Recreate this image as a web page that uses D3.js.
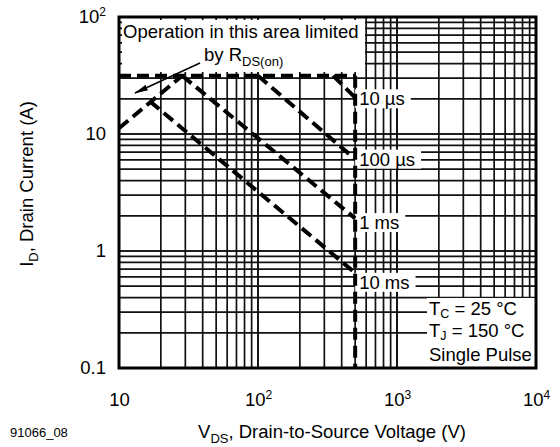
<!DOCTYPE html>
<html><head><meta charset="utf-8">
<script src="https://cdn.jsdelivr.net/npm/d3@7"></script>
<style>html,body{margin:0;padding:0;background:#fff;}svg{display:block;font-family:"Liberation Sans",Arial,Helvetica,sans-serif;}</style>
</head><body>
<svg id="c" width="560" height="447"></svg>
<script>
// ---- data ----
const xTickValues = [10, 100, 1000, 10000];
const xTickBase = ["10", "10", "10", "10"];
const xTickExp = ["", "2", "3", "4"];
const yTickValues = [0.1, 1, 10, 100];
const yTickBase = ["0.1", "1", "10", "10"];
const yTickExp = ["", "", "", "2"];

const rdsLine = [[10, 11.2], [28.5, 31.5]];
const limitLine = [[10, 31.5], [500, 31.5]];
const voltLine = [[500, 31.5], [500, 0.1]];
const pulseNames = ["10 µs", "100 µs", "1 ms", "10 ms"];
const pulseLines = [
  [[347, 31.5], [500, 20.5]],
  [[100, 31.5], [500, 6.1]],
  [[28.5, 31.5], [500, 1.9]],
  [[16.7, 19], [500, 0.65]]
];
const pulseLabelY = [20, 6.1, 1.75, 0.54];
const condLines = ["T|C| = 25 °C", "T|J| = 150 °C", "Single Pulse"];

// ---- layout ----
const L = 119, R = 536, T = 17, B = 368;
const svg = d3.select("#c");
const x = d3.scaleLog().domain([10, 10000]).range([L, R]);
const y = d3.scaleLog().domain([0.1, 100]).range([B, T]);

// grid
const xGrid = [], yGrid = [];
for (let d = 10; d < 10000; d *= 10) for (let k = 1; k <= 10; k++) xGrid.push(d * k);
for (let d = 0.1; d < 100; d *= 10) for (let k = 1; k <= 10; k++) yGrid.push(+(d * k).toPrecision(3));
const grid = svg.append("g").attr("stroke", "#111").attr("stroke-width", 1.7);
grid.selectAll("line.v").data(xGrid).join("line").attr("class", "v")
  .attr("x1", d => x(d)).attr("x2", d => x(d)).attr("y1", T).attr("y2", B);
grid.selectAll("line.h").data(yGrid).join("line").attr("class", "h")
  .attr("y1", d => y(d)).attr("y2", d => y(d)).attr("x1", L).attr("x2", R);

const FS = 18.5;
// annotation box
svg.append("rect").attr("x", L + 3).attr("y", T + 3).attr("width", 243).attr("height", 52).attr("fill", "#fff");
svg.append("text").attr("x", L + 4).attr("y", 38).attr("font-size", FS).text("Operation in this area limited");
const byT = svg.append("text").attr("x", 204).attr("y", 61).attr("font-size", FS);
byT.append("tspan").text("by R");
byT.append("tspan").attr("dy", 5).attr("font-size", 13).text("DS(on)");

// condition box
svg.append("rect").attr("x", 427).attr("y", 298).attr("width", R - 427).attr("height", B - 298).attr("fill", "#fff");
const condY = [315, 337, 361];
condLines.forEach((s, i) => {
  const parts = s.split("|");
  const t = svg.append("text").attr("x", 429).attr("y", condY[i]).attr("font-size", FS);
  t.append("tspan").text(parts[0]);
  if (parts.length > 1) {
    t.append("tspan").attr("dy", 3).attr("font-size", 12.5).text(parts[1]);
    t.append("tspan").attr("dy", -3).text(parts[2]);
  }
});

// pulse labels
pulseNames.forEach((s, i) => {
  const t = svg.append("text").attr("x", x(500) + 4).attr("y", y(pulseLabelY[i]) + 6.5).attr("font-size", FS).text(s);
  const bb = t.node().getBBox();
  svg.insert("rect", () => t.node()).attr("x", x(500)).attr("y", bb.y + 1).attr("width", bb.x + bb.width + 6 - x(500)).attr("height", bb.height - 2).attr("fill", "#fff");
});

// dashed lines
const line = d3.line().x(d => x(d[0])).y(d => y(d[1]));
const dash = svg.append("g").attr("fill", "none").attr("stroke", "#000").attr("stroke-width", 4).attr("stroke-dasharray", "12,6");
[rdsLine, limitLine, voltLine, ...pulseLines].forEach(p => dash.append("path").attr("d", line(p)));

// arrow
svg.append("defs").append("marker").attr("id", "ah").attr("viewBox", "0 0 14 6").attr("refX", 13).attr("refY", 3)
  .attr("markerWidth", 14).attr("markerHeight", 6).attr("markerUnits", "userSpaceOnUse").attr("orient", "auto")
  .append("path").attr("d", "M0,0 L14,3 L0,6 Z").attr("fill", "#000");
svg.append("line").attr("x1", 200).attr("y1", 63).attr("x2", 135).attr("y2", 93)
  .attr("stroke", "#000").attr("stroke-width", 1.5).attr("marker-end", "url(#ah)");

// frame
svg.append("rect").attr("x", L).attr("y", T).attr("width", R - L).attr("height", B - T)
  .attr("fill", "none").attr("stroke", "#000").attr("stroke-width", 3);

// axes
const xa = svg.append("g").attr("transform", `translate(0,${B})`)
  .call(d3.axisBottom(x).tickValues(xTickValues).tickSize(0).tickPadding(25).tickFormat(() => ""));
xa.select(".domain").remove();
xa.selectAll(".tick text").attr("font-size", FS).attr("fill", "#000").attr("font-family", null).each(function (d, i) {
  const t = d3.select(this);
  t.append("tspan").text(xTickBase[i]);
  if (xTickExp[i]) t.append("tspan").attr("dy", -7).attr("font-size", 12).text(xTickExp[i]);
});
const ya = svg.append("g").attr("transform", `translate(${L},0)`)
  .call(d3.axisLeft(y).tickValues(yTickValues).tickSize(0).tickPadding(13).tickFormat(() => ""));
ya.select(".domain").remove();
ya.selectAll(".tick text").attr("font-size", FS).attr("fill", "#000").attr("font-family", null).each(function (d, i) {
  const t = d3.select(this);
  t.append("tspan").text(yTickBase[i]);
  if (yTickExp[i]) t.append("tspan").attr("dy", -7).attr("font-size", 12).text(yTickExp[i]);
});

// titles
const xt = svg.append("text").attr("x", 332).attr("y", 438).attr("text-anchor", "middle").attr("font-size", FS);
xt.append("tspan").text("V");
xt.append("tspan").attr("dy", 5).attr("font-size", 13).text("DS");
xt.append("tspan").attr("dy", -5).text(", Drain-to-Source Voltage (V)");
const yt = svg.append("text").attr("transform", "translate(33,184) rotate(-90)").attr("text-anchor", "middle").attr("font-size", FS);
yt.append("tspan").text("I");
yt.append("tspan").attr("dy", 5).attr("font-size", 13).text("D");
yt.append("tspan").attr("dy", -5).text(", Drain Current (A)");
svg.append("text").attr("x", 10).attr("y", 437).attr("font-size", 13).text("91066_08");
</script>
</body></html>
